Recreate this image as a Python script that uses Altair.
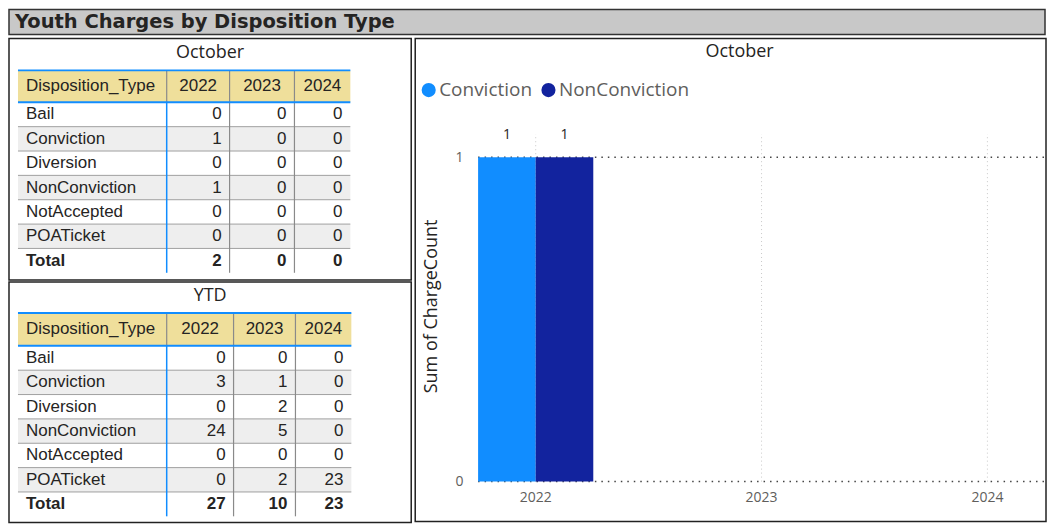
import altair as alt
import pandas as pd

# ---------------- data ----------------
dispositions = ["Bail", "Conviction", "Diversion", "NonConviction", "NotAccepted", "POATicket"]
years = ["2022", "2023", "2024"]
october_2022 = [0, 1, 0, 1, 0, 0]
october_2023 = [0, 0, 0, 0, 0, 0]
october_2024 = [0, 0, 0, 0, 0, 0]
ytd_2022 = [0, 3, 0, 24, 0, 0]
ytd_2023 = [0, 1, 2, 5, 0, 2]
ytd_2024 = [0, 0, 0, 0, 0, 23]
chart_series = ["Conviction", "NonConviction"]
y_tick_values = [0, 1]

# ---------------- style ----------------
BLUE = "#118DFF"
NAVY = "#12239E"
KHAKI = "#EFDF9B"
SHADE = "#EEEEEE"
LINE_GRAY = "#A0A0A0"
SEP_GRAY = "#8A8A8A"
TEXT = "#252423"
SUBTLE = "#605E5C"
PANEL = "#222222"
TF = "Liberation Sans"
CF = "Open Sans"

one = pd.DataFrame({"k": [0]})


def lin(n):
    return alt.Scale(domain=[0, n], range=[0, n], nice=False, zero=False)


def make_table(title, cols, W, H, title_y, header_top, header_h, row_h, label_w, year_ws, x0=9):
    xs, ys = lin(W), lin(H)
    X = lambda f: alt.X(f, type="quantitative", scale=xs, axis=None)
    Y = lambda f: alt.Y(f, type="quantitative", scale=ys, axis=None)
    edges = [x0, x0 + label_w]
    for w in year_ws:
        edges.append(edges[-1] + w)
    x_end = edges[-1]
    body_top = header_top + header_h
    n_cat = len(dispositions)
    body_bot = body_top + (n_cat + 1) * row_h
    totals = [sum(c) for c in cols]

    shade = pd.DataFrame([{"x": x0, "x2": x_end, "y": body_top + i * row_h,
                           "y2": body_top + (i + 1) * row_h} for i in range(n_cat) if i % 2 == 1])
    header = pd.DataFrame([{"x": x0, "x2": x_end, "y": header_top, "y2": body_top}])
    rowlines = pd.DataFrame([{"x": x0, "x2": x_end, "y": body_top + (i + 1) * row_h} for i in range(n_cat)])
    hsep = pd.DataFrame([{"x": e, "y": header_top, "y2": body_top} for e in edges[1:4]])
    bsep_gray = pd.DataFrame([{"x": e, "y": body_top, "y2": body_bot} for e in edges[2:4]])
    bsep_blue = pd.DataFrame([{"x": edges[1], "y": body_top, "y2": body_bot}])
    blue_h = pd.DataFrame([{"x": x0, "x2": x_end, "y": header_top}, {"x": x0, "x2": x_end, "y": body_top}])

    hc = header_top + header_h / 2
    head_left = pd.DataFrame([{"tx": x0 + 8, "ty": hc, "t": "Disposition_Type"}])
    head_years = pd.DataFrame([{"tx": (edges[j + 1] + edges[j + 2]) / 2, "ty": hc, "t": years[j]} for j in range(3)])
    body_labels = pd.DataFrame([{"tx": x0 + 8, "ty": body_top + (i + 0.5) * row_h, "t": d}
                                for i, d in enumerate(dispositions)])
    body_nums = pd.DataFrame([{"tx": edges[j + 2] - 8, "ty": body_top + (i + 0.5) * row_h, "t": str(cols[j][i])}
                              for i in range(n_cat) for j in range(3)])
    tot_y = body_top + (n_cat + 0.5) * row_h
    total_label = pd.DataFrame([{"tx": x0 + 8, "ty": tot_y, "t": "Total"}])
    total_nums = pd.DataFrame([{"tx": edges[j + 2] - 8, "ty": tot_y, "t": str(totals[j])} for j in range(3)])

    def txt(df, align, weight="normal"):
        return alt.Chart(df).mark_text(align=align, baseline="middle", font=TF, fontSize=17,
                                       fontWeight=weight, color=TEXT).encode(
            x=X("tx"), y=Y("ty"), text="t:N")

    layers = [
        alt.Chart(shade).mark_rect(color=SHADE).encode(x=X("x"), x2="x2", y=Y("y"), y2="y2"),
        alt.Chart(header).mark_rect(color=KHAKI).encode(x=X("x"), x2="x2", y=Y("y"), y2="y2"),
        alt.Chart(rowlines).mark_rule(color=LINE_GRAY, strokeWidth=1).encode(x=X("x"), x2="x2", y=Y("y")),
        alt.Chart(hsep).mark_rule(color=SEP_GRAY, strokeWidth=1.2).encode(x=X("x"), y=Y("y"), y2="y2"),
        alt.Chart(bsep_gray).mark_rule(color=SEP_GRAY, strokeWidth=1.2).encode(x=X("x"), y=Y("y"), y2="y2"),
        alt.Chart(bsep_blue).mark_rule(color=BLUE, strokeWidth=1.5).encode(x=X("x"), y=Y("y"), y2="y2"),
        alt.Chart(blue_h).mark_rule(color=BLUE, strokeWidth=2).encode(x=X("x"), x2="x2", y=Y("y")),
        txt(head_left, "left"),
        txt(head_years, "center"),
        txt(body_labels, "left"),
        txt(body_nums, "right"),
        txt(total_label, "left", "bold"),
        txt(total_nums, "right", "bold"),
        alt.Chart(one).mark_text(text=title, align="center", baseline="middle", font=CF,
                                 fontSize=18, color=TEXT).encode(x=alt.value(W / 2), y=alt.value(title_y)),
    ]
    return alt.layer(*layers).properties(
        width=W, height=H,
        view=alt.ViewBackground(fill="white", stroke=PANEL, strokeWidth=1.5))


top_table = make_table("October", [october_2022, october_2023, october_2024], 403, 242,
                       15, 32, 32, 24.4, 149, [63, 65, 56])
bottom_table = make_table("YTD", [ytd_2022, ytd_2023, ytd_2024], 403, 241,
                          14, 31, 33, 24.4, 149, [67, 62, 56])
left = alt.vconcat(top_table, bottom_table, spacing=0)

# ---------------- bar chart ----------------
oct_cols = [october_2022, october_2023, october_2024]
bar_df = pd.DataFrame([{"Year": y, "Disposition": s, "ChargeCount": oct_cols[yi][dispositions.index(s)]}
                       for yi, y in enumerate(years) for s in chart_series])

PW = 568          # plot width
PH = 444          # plot height (panel top down to zero line)
Y_MAX = 1.366     # domain top, so that the panel title and legend sit inside the plot area
PLOT_TOP = 1.071  # value where the vertical gridlines stop
vgrid_df = pd.DataFrame({"Year": years, "ChargeCount": [0] * 3, "Top": [PLOT_TOP] * 3})
hgrid_df = pd.DataFrame({"ChargeCount": y_tick_values})

x_enc = alt.X("Year:N", sort=years,
              scale=alt.Scale(domain=years, paddingInner=0.49, paddingOuter=0),
              axis=alt.Axis(title=None, labelAngle=0, labelFont=CF, labelFontSize=14, labelColor=SUBTLE,
                            labelPadding=9, ticks=False, domain=False, grid=False))
xo_enc = alt.XOffset("Disposition:N", scale=alt.Scale(domain=chart_series, paddingInner=0, paddingOuter=0))
y_enc = alt.Y("ChargeCount:Q", scale=alt.Scale(domain=[0, Y_MAX], nice=False),
              axis=alt.Axis(values=y_tick_values, format="d", title="Sum of ChargeCount", titleFont=CF,
                            titleFontSize=18, titleFontWeight="normal", titleColor=TEXT, titlePadding=15,
                            titleY=268, labelFont=CF, labelFontSize=14, labelColor=SUBTLE, labelPadding=15,
                            ticks=False, domain=False, grid=False))

border = alt.Chart(one).mark_rect(fill="white", fillOpacity=0, stroke=PANEL, strokeWidth=1.5).encode(
    x=alt.value(-63), x2=alt.value(PW + 1), y=alt.value(0), y2=alt.value(PH + 40))

vgrid = alt.Chart(vgrid_df).mark_rule(color="#C8C8C8", strokeDash=[1, 3], strokeWidth=1).encode(
    x=x_enc, y=y_enc, y2="Top:Q")

hgrid = alt.Chart(hgrid_df).mark_rule(color="#444444", strokeDash=[1.5, 5], strokeWidth=1.5).encode(
    x=alt.value(0), x2=alt.value(PW), y=y_enc)

bars = alt.Chart(bar_df).transform_filter("datum.ChargeCount > 0").mark_bar().encode(
    x=x_enc, xOffset=xo_enc, y=y_enc,
    color=alt.Color("Disposition:N", scale=alt.Scale(domain=chart_series, range=[BLUE, NAVY]),
                    legend=alt.Legend(title=None, orient="none", legendX=-59, legendY=42,
                                      direction="horizontal", symbolType="circle", symbolSize=200,
                                      symbolStrokeWidth=0, labelFont=CF, labelFontSize=19,
                                      labelColor=SUBTLE, columnPadding=6, labelOffset=1)))

labels = alt.Chart(bar_df).transform_filter("datum.ChargeCount > 0").mark_text(
    dy=-22, font=CF, fontSize=14, color=TEXT).encode(
    x=x_enc, xOffset=xo_enc, y=y_enc, text="ChargeCount:Q")

chart_title = alt.Chart(one).mark_text(text="October", align="center", baseline="middle", font=CF,
                                       fontSize=18, color=TEXT).encode(x=alt.value(262), y=alt.value(14))

right = alt.layer(border, vgrid, hgrid, bars, labels, chart_title).properties(width=PW, height=PH)

# ---------------- title bar ----------------
title_bar = alt.Chart(one).mark_text(text="Youth Charges by Disposition Type", align="left",
                                     baseline="middle", font="DejaVu Sans", fontWeight="bold",
                                     fontSize=19.5, color=TEXT).encode(
    x=alt.value(6), y=alt.value(13)).properties(
    width=1038, height=25, view=alt.ViewBackground(fill="#C8C8C8", stroke="#333333", strokeWidth=1.5))

body = alt.hconcat(left, right, spacing=1).resolve_scale(color="independent").resolve_legend(color="independent")
chart = alt.vconcat(title_bar, body, spacing=1).resolve_scale(color="independent").resolve_legend(
    color="independent").properties(
    padding={"left": 0, "top": 0, "right": 0, "bottom": 0}
).configure_view(stroke="transparent")

chart.save("out.html", embed_options={"renderer": "svg", "actions": False})
